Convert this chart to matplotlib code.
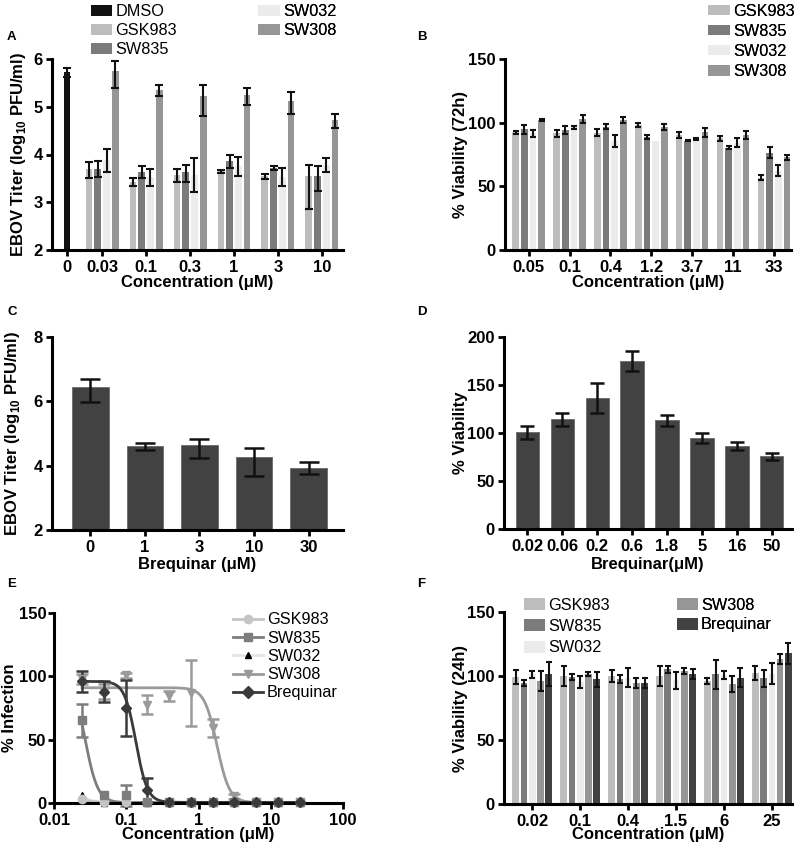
import matplotlib
matplotlib.use('Agg')
import matplotlib.pyplot as plt
import numpy as np
from matplotlib.patches import Patch
from matplotlib.lines import Line2D
from matplotlib.ticker import FixedLocator, FixedFormatter, NullLocator

plt.rcParams['font.family'] = ['Liberation Sans', 'DejaVu Sans']
plt.rcParams['font.weight'] = 'bold'
plt.rcParams['mathtext.fontset'] = 'custom'
plt.rcParams['mathtext.rm'] = 'Liberation Sans'
plt.rcParams['mathtext.bf'] = 'Liberation Sans:bold'

# ---------------- Data ----------------
# Panel A: EBOV titer (log10 PFU/ml)
a_labels = ['0', '0.03', '0.1', '0.3', '1', '3', '10']
a_series = ['GSK983', 'SW835', 'SW032', 'SW308']
a_dmso = [5.72]
a_dmso_err = [0.10]
a_gsk983 = [3.70, 3.43, 3.57, 3.65, 3.54, 3.54]
a_gsk983_lo = [0.19, 0.08, 0.15, 0.03, 0.05, 0.68]
a_gsk983_hi = [0.14, 0.07, 0.13, 0.03, 0.05, 0.25]
a_sw835 = [3.70, 3.64, 3.64, 3.86, 3.71, 3.56]
a_sw835_lo = [0.17, 0.13, 0.21, 0.15, 0.04, 0.32]
a_sw835_hi = [0.17, 0.11, 0.15, 0.13, 0.04, 0.19]
a_sw032 = [3.88, 3.52, 3.57, 3.75, 3.52, 3.78]
a_sw032_lo = [0.24, 0.17, 0.35, 0.19, 0.19, 0.15]
a_sw032_hi = [0.24, 0.17, 0.35, 0.19, 0.19, 0.15]
a_sw308 = [5.75, 5.36, 5.23, 5.25, 5.13, 4.72]
a_sw308_lo = [0.35, 0.13, 0.42, 0.21, 0.28, 0.16]
a_sw308_hi = [0.21, 0.10, 0.23, 0.15, 0.17, 0.12]

# Panel B: % viability (72h)
b_labels = ['0.05', '0.1', '0.4', '1.2', '3.7', '11', '33']
b_gsk983 = [92.4, 91.6, 92.1, 98.2, 90.3, 87.7, 56.8]
b_gsk983_err = [1.0, 2.6, 2.6, 1.3, 2.3, 2.2, 2.0]
b_sw835 = [94.8, 94.2, 96.9, 88.5, 85.9, 80.4, 76.4]
b_sw835_err = [3.5, 3.3, 1.7, 1.5, 0.6, 1.0, 4.2]
b_sw032 = [91.6, 96.3, 85.5, 85.9, 87.0, 84.1, 62.4]
b_sw032_err = [2.6, 1.0, 4.8, 0.0, 1.0, 3.5, 4.3]
b_sw308 = [102.1, 102.9, 102.1, 96.9, 92.4, 90.3, 72.7]
b_sw308_err = [1.0, 3.3, 2.6, 2.3, 3.3, 3.0, 1.7]

# Panel C: Brequinar EBOV titer
c_labels = ['0', '1', '3', '10', '30']
c_values = [6.44, 4.60, 4.63, 4.28, 3.94]
c_lo = [0.46, 0.12, 0.40, 0.60, 0.20]
c_hi = [0.25, 0.12, 0.20, 0.26, 0.16]

# Panel D: Brequinar viability
d_labels = ['0.02', '0.06', '0.2', '0.6', '1.8', '5', '16', '50']
d_values = [100.7, 114.2, 136.5, 175.3, 113.2, 94.8, 86.5, 75.7]
d_err = [7.0, 6.8, 16.0, 10.5, 5.4, 4.7, 4.0, 3.5]

# Panel E: % infection dose response
e_conc = [0.0244, 0.0488, 0.0977, 0.195, 0.391, 0.781, 1.5625, 3.125, 6.25, 12.5, 25.0]
e_names = ['GSK983', 'SW835', 'SW032', 'SW308', 'Brequinar']
e_gsk983 = [3.2, 0.5, 0.8, 0.8, 0.5, 0.5, 0.5, 0.5, 0.5, 0.5, 0.5]
e_gsk983_err = [0, 0, 0, 0, 0, 0, 0, 0, 0, 0, 0]
e_sw835 = [65.3, 6.0, 6.0, 0.5, 0.5, 0.5, 0.5, 0.5, 0.5, 0.5, 0.5]
e_sw835_err = [13.0, 0, 8.0, 0, 0, 0, 0, 0, 0, 0, 0]
e_sw032 = [6.6, 0.3, 0.3, 0.3, 0.3, 0.3, 0.3, 0.3, 0.3, 0.3, 0.3]
e_sw032_err = [0, 0, 0, 0, 0, 0, 0, 0, 0, 0, 0]
e_sw308 = [98.0, 88.0, 101.0, 77.6, 84.2, 86.8, 59.2, 5.3, 0.5, 0.5, 0.5]
e_sw308_err = [4.0, 6.0, 2.0, 7.5, 4.0, 26.0, 7.0, 2.0, 0, 0, 0]
e_breq = [96.0, 88.0, 75.0, 10.0, 1.0, 0.5, 0.5, 0.5, 0.5, 0.5, 0.5]
e_breq_err = [8.0, 8.0, 22.0, 9.5, 0, 0, 0, 0, 0, 0, 0]
# four-parameter logistic fit parameters
e_fit_top = [100, 100, 100, 91, 96]
e_fit_bottom = [0.3, 0.3, 0.3, 0.3, 0.5]
e_fit_ic50 = [0.0105, 0.027, 0.012, 1.8, 0.136]
e_fit_hill = [4.0, 5.0, 4.0, 5.0, 5.5]
e_ticks = [0.01, 0.1, 1, 10, 100]
e_ticklabels = ['0.01', '0.1', '1', '10', '100']

# Panel F: % viability (24h)
f_labels = ['0.02', '0.1', '0.4', '1.5', '6', '25']
f_series = ['GSK983', 'SW835', 'SW032', 'SW308', 'Brequinar']
f_gsk983 = [99.5, 100.0, 100.0, 100.0, 96.1, 102.1]
f_gsk983_err = [5.5, 7.5, 4.7, 8.0, 2.2, 5.5]
f_sw835 = [94.3, 99.5, 97.4, 105.2, 101.3, 98.2]
f_sw835_err = [2.5, 2.4, 3.0, 2.6, 11.3, 6.5]
f_sw032 = [101.3, 95.2, 98.8, 96.5, 100.7, 101.8]
f_sw032_err = [2.5, 4.8, 7.2, 6.9, 2.9, 8.0]
f_sw308 = [96.4, 101.3, 94.8, 104.2, 93.75, 113.3]
f_sw308_err = [7.8, 1.5, 4.0, 2.3, 5.9, 4.2]
f_breq = [101.3, 97.4, 94.8, 101.3, 98.7, 117.7]
f_breq_err = [9.5, 5.7, 4.0, 3.9, 7.6, 8.0]

# ---------------- Styles ----------------
COL = {'DMSO': '#111111', 'GSK983': '#bdbdbd', 'SW835': '#7b7b7b',
       'SW032': '#ebebeb', 'SW308': '#969696', 'Brequinar': '#414241'}
E_LINE = {'GSK983': '#c4c4c4', 'SW835': '#7d7d7d', 'SW032': '#e4e4e4',
          'SW308': '#9a9a9a', 'Brequinar': '#3a3a3a'}
E_MARK = {'GSK983': 'o', 'SW835': 's', 'SW032': '^', 'SW308': 'v', 'Brequinar': 'D'}
E_MCOL = {'GSK983': '#c4c4c4', 'SW835': '#7d7d7d', 'SW032': '#000000',
          'SW308': '#9a9a9a', 'Brequinar': '#3a3a3a'}

W, H = 800, 849
fig = plt.figure(figsize=(W / 100, H / 100), dpi=100)


def fx(px):
    return px / W


def fy(py):
    return 1 - py / H


AX_BOX = {}


def axes_px(l, r, t, b):
    ax = fig.add_axes([fx(l), fy(b), (r - l) / W, (b - t) / H])
    AX_BOX[ax] = (l, r, t, b)
    return ax


TICK_FS = 12
LAB_FS = 12
LEG_FS = 11.7


def no_zero(err):
    e = np.asarray(err, dtype=float)
    return np.where(e == 0, np.nan, e)


def style(ax, tick_fs=TICK_FS, ypad=2):
    for s in ['top', 'right']:
        ax.spines[s].set_visible(False)
    for s in ['left', 'bottom']:
        ax.spines[s].set_linewidth(2.2)
    ax.tick_params(axis='both', width=2.0, length=4.5, labelsize=tick_fs)
    ax.tick_params(axis='y', pad=ypad)
    ax.tick_params(axis='x', pad=2.5)


def place_labels(ax, ylab_x, xlab_y):
    l, r, t, b = AX_BOX[ax]
    ax.yaxis.set_label_coords((ylab_x - l) / (r - l), 0.5)
    ax.yaxis.label.set_verticalalignment('center')
    ax.xaxis.set_label_coords(0.5, (b - xlab_y) / (b - t))
    ax.xaxis.label.set_verticalalignment('center')


def panel_letter(x, y, s):
    fig.text(fx(x), fy(y), s, fontsize=9.5, fontweight='bold', ha='left', va='center')


def bar_legend(ax, names, x, y, hl=1.33, hh=0.62, ls=0.25):
    handles = [Patch(facecolor=COL[n], edgecolor='none', label=n) for n in names]
    leg = ax.legend(handles=handles, loc='upper left', bbox_to_anchor=(fx(x), fy(y)),
                    bbox_transform=fig.transFigure, frameon=False, borderpad=0,
                    borderaxespad=0, handlelength=hl, handleheight=hh,
                    handletextpad=0.2, labelspacing=ls,
                    prop={'size': LEG_FS, 'weight': 'normal'})
    ax.add_artist(leg)
    return leg


ebar_kw = dict(fmt='none', ecolor='#111111', elinewidth=1.5, capthick=1.5)

# ---------------- Panel A ----------------
axA = axes_px(52, 343, 59, 250)
style(axA)
a_vals = [a_gsk983, a_sw835, a_sw032, a_sw308]
a_los = [a_gsk983_lo, a_sw835_lo, a_sw032_lo, a_sw308_lo]
a_his = [a_gsk983_hi, a_sw835_hi, a_sw032_hi, a_sw308_hi]
groups = np.arange(1, 7)
bw = 0.15
offs = [-0.3, -0.1, 0.1, 0.3]
axA.bar([0.2], a_dmso, width=bw, bottom=0, color=COL['DMSO'], zorder=2)
axA.errorbar([0.2], a_dmso, yerr=a_dmso_err, capsize=2.6, zorder=3, **ebar_kw)
for name, v, lo, hi, o in zip(a_series, a_vals, a_los, a_his, offs):
    axA.bar(groups + o, v, width=bw, color=COL[name], zorder=2)
    axA.errorbar(groups + o, v, yerr=[lo, hi], capsize=2.6, zorder=3, **ebar_kw)
axA.set_ylim(2, 6)
axA.set_xlim(-0.14, 6.48)
axA.set_yticks([2, 3, 4, 5, 6])
axA.set_xticks([0.2] + list(groups))
axA.set_xticklabels(a_labels)
axA.set_ylabel(r'EBOV Titer (log$_{10}$ PFU/ml)', fontsize=LAB_FS, fontweight='bold')
axA.set_xlabel('Concentration (μM)', fontsize=LAB_FS, fontweight='bold')
place_labels(axA, 19, 283)
bar_legend(axA, ['DMSO', 'GSK983', 'SW835'], 90.7, 4)
bar_legend(axA, ['SW032', 'SW308'], 258, 4)
panel_letter(7, 37, 'A')

# ---------------- Panel B ----------------
axB = axes_px(505, 791, 59, 250)
style(axB)
b_vals = [b_gsk983, b_sw835, b_sw032, b_sw308]
b_errs = [b_gsk983_err, b_sw835_err, b_sw032_err, b_sw308_err]
gB = np.arange(len(b_labels))
offsB = [-0.318, -0.106, 0.106, 0.318]
for name, v, e, o in zip(a_series, b_vals, b_errs, offsB):
    axB.bar(gB + o, v, width=0.163, color=COL[name], zorder=2)
    axB.errorbar(gB + o, v, yerr=no_zero(e), capsize=2.4, zorder=3, **ebar_kw)
axB.set_ylim(0, 150)
axB.set_xlim(-0.58, 6.42)
axB.set_yticks([0, 50, 100, 150])
axB.set_xticks(gB)
axB.set_xticklabels(b_labels)
axB.set_ylabel('% Viability (72h)', fontsize=LAB_FS, fontweight='bold')
axB.set_xlabel('Concentration (μM)', fontsize=LAB_FS, fontweight='bold')
place_labels(axB, 461, 283)
bar_legend(axB, a_series, 708, 3.5, ls=0.32)
panel_letter(417, 37, 'B')

# ---------------- Panel C ----------------
axC = axes_px(52, 343, 337, 530)
style(axC)
gC = np.arange(len(c_labels))
axC.bar(gC, c_values, width=0.67, color=COL['Brequinar'], edgecolor='#6a6a6a', linewidth=0.6, zorder=2)
axC.errorbar(gC, c_values, yerr=[c_lo, c_hi], capsize=7.2, zorder=3,
             fmt='none', ecolor='#111111', elinewidth=1.8, capthick=1.8)
axC.set_ylim(2, 8)
axC.set_xlim(-0.70, 4.63)
axC.set_yticks([2, 4, 6, 8])
axC.set_xticks(gC)
axC.set_xticklabels(c_labels)
axC.set_ylabel(r'EBOV Titer (log$_{10}$ PFU/ml)', fontsize=LAB_FS, fontweight='bold')
axC.set_xlabel('Brequinar (μM)', fontsize=LAB_FS, fontweight='bold')
place_labels(axC, 13, 564)
panel_letter(7, 312, 'C')

# ---------------- Panel D ----------------
axD = axes_px(504, 792, 337, 529)
style(axD)
gD = np.arange(len(d_labels))
axD.bar(gD, d_values, width=0.67, color=COL['Brequinar'], edgecolor='#6a6a6a', linewidth=0.6, zorder=2)
axD.errorbar(gD, d_values, yerr=d_err, capsize=4.8, zorder=3,
             fmt='none', ecolor='#111111', elinewidth=1.8, capthick=1.8)
axD.set_ylim(0, 200)
axD.set_xlim(-0.67, 7.58)
axD.set_yticks([0, 50, 100, 150, 200])
axD.set_xticks(gD)
axD.set_xticklabels(d_labels)
axD.set_ylabel('% Viability', fontsize=LAB_FS, fontweight='bold')
axD.set_xlabel('Brequinar(μM)', fontsize=LAB_FS, fontweight='bold')
place_labels(axD, 461, 564)
panel_letter(417, 312, 'D')

# ---------------- Panel E ----------------
axE = axes_px(54, 343, 613, 803)
style(axE, tick_fs=12, ypad=1)
axE.set_xscale('log')
e_vals = [e_gsk983, e_sw835, e_sw032, e_sw308, e_breq]
e_errs = [e_gsk983_err, e_sw835_err, e_sw032_err, e_sw308_err, e_breq_err]
xfit = np.logspace(np.log10(e_conc[0]), np.log10(e_conc[-1]), 300)
order = [2, 0, 1, 3, 4]
for i in order:
    name = e_names[i]
    top, bot, ic, h = e_fit_top[i], e_fit_bottom[i], e_fit_ic50[i], e_fit_hill[i]
    yfit = bot + (top - bot) / (1 + (xfit / ic) ** h)
    axE.plot(xfit, yfit, color=E_LINE[name], lw=2.0, zorder=2, clip_on=False)
    ms = 4.5 if name == 'SW032' else 6
    if name == 'Brequinar':
        ms = 5
    axE.errorbar(e_conc, e_vals[i], yerr=no_zero(e_errs[i]), fmt=E_MARK[name], ms=ms,
                 color=E_MCOL[name], ecolor=E_LINE[name] if name != 'Brequinar' else '#3a3a3a',
                 elinewidth=1.8, capsize=4, capthick=1.8, zorder=3, clip_on=False)
axE.set_xlim(0.01, 100)
axE.set_ylim(0, 150)
axE.set_yticks([0, 50, 100, 150])
axE.xaxis.set_major_locator(FixedLocator(e_ticks))
axE.xaxis.set_major_formatter(FixedFormatter(e_ticklabels))
axE.xaxis.set_minor_locator(NullLocator())
axE.set_ylabel('% Infection', fontsize=LAB_FS, fontweight='bold')
axE.set_xlabel('Concentration (μM)', fontsize=LAB_FS, fontweight='bold')
place_labels(axE, 9.5, 835)
e_handles = [Line2D([0], [0], color=E_LINE[n], lw=2.0, marker=E_MARK[n],
                    ms=(4.5 if n == 'SW032' else 6), mfc=E_MCOL[n], mec=E_MCOL[n], label=n)
             for n in e_names]
axE.legend(handles=e_handles, loc='upper left', bbox_to_anchor=(fx(233), fy(612.5)),
           bbox_transform=fig.transFigure, frameon=False, borderpad=0, borderaxespad=0,
           handlelength=1.85, handletextpad=0.23, labelspacing=0.2,
           prop={'size': LEG_FS, 'weight': 'normal'})
panel_letter(7, 584, 'E')

# ---------------- Panel F ----------------
axF = axes_px(504, 792, 612, 804)
style(axF)
f_vals = [f_gsk983, f_sw835, f_sw032, f_sw308, f_breq]
f_errs = [f_gsk983_err, f_sw835_err, f_sw032_err, f_sw308_err, f_breq_err]
gF = np.arange(len(f_labels))
for i, (name, v, e) in enumerate(zip(f_series, f_vals, f_errs)):
    o = (i - 2) * 0.172
    axF.bar(gF + o, v, width=0.139, color=COL[name], zorder=2)
    axF.errorbar(gF + o, v, yerr=e, capsize=2.0, zorder=3, **ebar_kw)
axF.set_ylim(0, 150)
axF.set_xlim(-0.59, 5.42)
axF.set_yticks([0, 50, 100, 150])
axF.set_xticks(gF)
axF.set_xticklabels(f_labels)
axF.set_ylabel('% Viability (24h)', fontsize=LAB_FS, fontweight='bold')
axF.set_xlabel('Concentration (μM)', fontsize=LAB_FS, fontweight='bold')
place_labels(axF, 461, 835)
bar_legend(axF, ['GSK983', 'SW835', 'SW032'], 524, 597.5, hl=1.3, hh=0.75, ls=0.4)
bar_legend(axF, ['SW308', 'Brequinar'], 676.7, 597.5, hl=1.3, hh=0.75, ls=0.3)
panel_letter(417, 584, 'F')

fig.savefig('out.png', dpi=100)
